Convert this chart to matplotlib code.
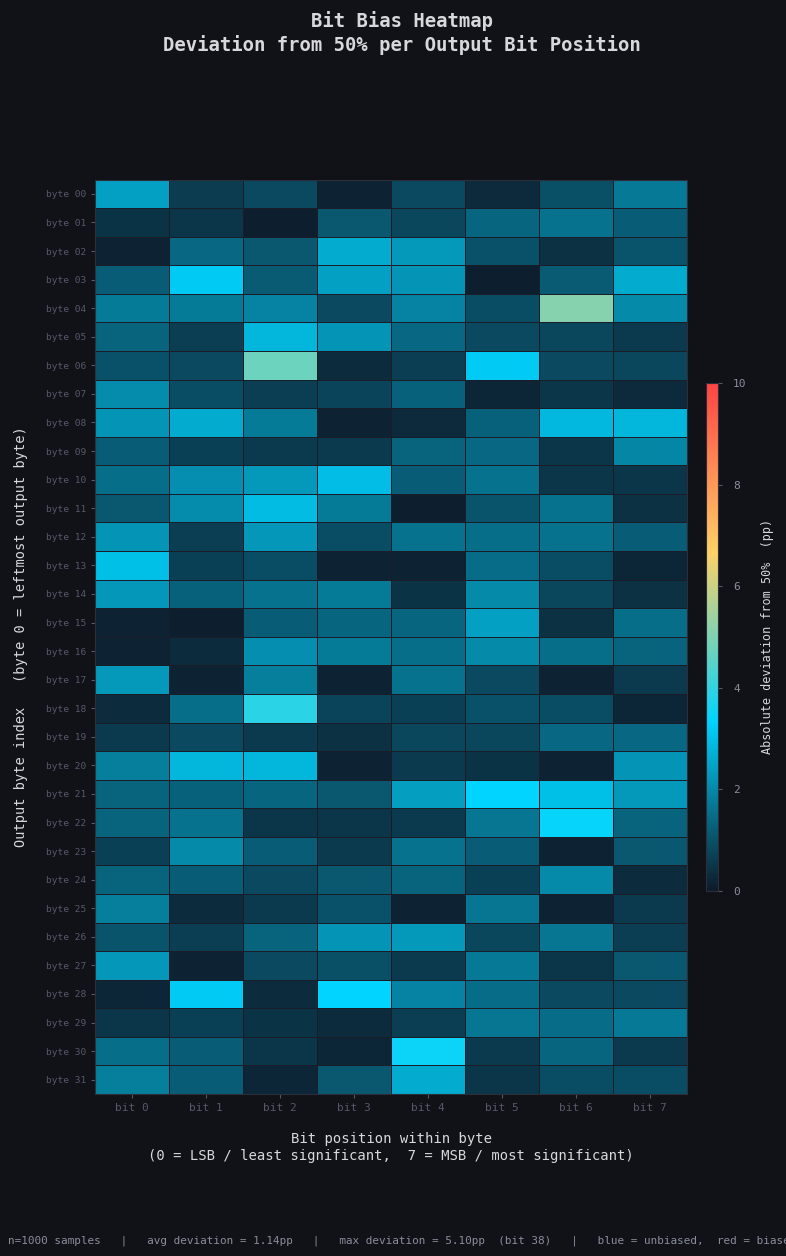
import matplotlib
matplotlib.use("Agg")
import matplotlib.pyplot as plt
import numpy as np
from matplotlib.colors import LinearSegmentedColormap

bg = "#111217"
txt = "#d8d8dc"
dim = "#8a8d9c"

bytes_lbl = ["byte %02d" % i for i in range(32)]
bits_lbl = ["bit %d" % i for i in range(8)]

# absolute deviation from 50% (pp), rows = output byte, cols = bit 0..7
dev = np.array([
    [2.40, 0.60, 0.85, 0.15, 0.85, 0.30, 0.95, 1.70],
    [0.45, 0.50, 0.10, 1.10, 0.80, 1.35, 1.60, 1.20],
    [0.15, 1.40, 1.10, 2.60, 2.30, 1.00, 0.40, 1.05],
    [1.20, 3.20, 1.15, 2.40, 2.20, 0.10, 1.15, 2.60],
    [1.75, 1.75, 1.90, 0.85, 1.90, 0.90, 5.10, 2.00],
    [1.30, 0.65, 2.80, 2.20, 1.40, 0.85, 0.80, 0.55],
    [1.00, 0.85, 4.75, 0.35, 0.65, 3.20, 0.85, 0.80],
    [2.05, 0.90, 0.65, 0.75, 1.25, 0.20, 0.50, 0.30],
    [2.20, 2.60, 1.75, 0.15, 0.30, 1.25, 2.85, 2.80],
    [1.20, 0.70, 0.55, 0.55, 1.30, 1.40, 0.50, 1.95],
    [1.50, 2.10, 2.30, 2.95, 1.20, 1.60, 0.50, 0.50],
    [1.10, 2.05, 2.90, 1.75, 0.10, 1.05, 1.60, 0.40],
    [2.20, 0.65, 2.25, 0.90, 1.60, 1.50, 1.60, 1.20],
    [3.00, 0.70, 0.90, 0.15, 0.15, 1.45, 0.90, 0.20],
    [2.25, 1.25, 1.60, 1.75, 0.45, 2.00, 0.80, 0.40],
    [0.15, 0.10, 1.20, 1.35, 1.35, 2.40, 0.40, 1.50],
    [0.15, 0.35, 2.10, 1.75, 1.50, 2.00, 1.50, 1.30],
    [2.30, 0.15, 1.80, 0.15, 1.60, 0.85, 0.15, 0.55],
    [0.35, 1.50, 3.90, 0.75, 0.70, 1.00, 0.90, 0.20],
    [0.55, 0.85, 0.55, 0.40, 0.80, 0.80, 1.40, 1.40],
    [1.80, 2.80, 2.80, 0.15, 0.55, 0.45, 0.15, 2.20],
    [1.30, 1.25, 1.35, 1.10, 2.35, 3.35, 3.00, 2.30],
    [1.30, 1.60, 0.50, 0.50, 0.55, 1.65, 3.40, 1.30],
    [0.70, 2.00, 1.20, 0.55, 1.60, 1.20, 0.15, 1.10],
    [1.30, 1.20, 0.85, 1.10, 1.30, 0.70, 2.00, 0.35],
    [1.80, 0.35, 0.55, 1.00, 0.15, 1.65, 0.15, 0.55],
    [1.05, 0.65, 1.30, 2.20, 2.30, 0.80, 1.65, 0.65],
    [2.25, 0.15, 0.85, 0.95, 0.55, 1.70, 0.50, 1.10],
    [0.20, 3.20, 0.35, 3.35, 1.90, 1.45, 0.85, 0.85],
    [0.50, 0.70, 0.45, 0.35, 0.65, 1.65, 1.45, 1.70],
    [1.50, 1.20, 0.50, 0.20, 3.50, 0.55, 1.35, 0.55],
    [1.80, 1.20, 0.20, 1.10, 2.60, 0.50, 0.90, 0.90],
])

cmap = LinearSegmentedColormap.from_list("bias", ["#0d1b2a", "#00d4ff", "#ffd166", "#ff4444"])

plt.rcParams["font.family"] = "DejaVu Sans Mono"

fig = plt.figure(figsize=(7.86, 12.56), dpi=100, facecolor=bg)
ax = fig.add_axes([0.121, 0.129, 0.753, 0.728])
ax.set_facecolor(bg)
mesh = ax.pcolormesh(dev, cmap=cmap, vmin=0, vmax=10, edgecolors="#1a1d28", linewidth=0.4)
ax.set_xlim(0, 8)
ax.set_ylim(32, 0)

ax.set_xticks(np.arange(8) + 0.5)
ax.set_xticklabels(bits_lbl, fontsize=8, color=dim)
ax.set_yticks(np.arange(32) + 0.5)
ax.set_yticklabels(bytes_lbl, fontsize=6.8, color=dim)
ax.tick_params(colors="#55586a", length=3)
for s in ax.spines.values():
    s.set_color("#2c2f3a")
    s.set_linewidth(0.8)

ax.set_xlabel("Bit position within byte\n(0 = LSB / least significant,  7 = MSB / most significant)",
              fontsize=10, color=txt, labelpad=14)
ax.set_ylabel("Output byte index   (byte 0 = leftmost output byte)", fontsize=9.8, color=txt, labelpad=13)

fig.text(0.511, 0.991, "Bit Bias Heatmap\nDeviation from 50% per Output Bit Position",
         ha="center", va="top", fontsize=13.6, fontweight="bold", color=txt, linespacing=1.2)

cax = fig.add_axes([0.898, 0.291, 0.0153, 0.404])
cb = fig.colorbar(mesh, cax=cax)
cb.set_ticks([0, 2, 4, 6, 8, 10])
cb.ax.tick_params(colors="#55586a", labelcolor=dim, labelsize=8, length=3, pad=8)
cb.outline.set_edgecolor("#2c2f3a")
cb.set_label("Absolute deviation from 50%  (pp)", fontsize=8.5, color=txt, labelpad=10)

fig.text(0.01, 0.008,
         "n=1000 samples   |   avg deviation = 1.14pp   |   max deviation = 5.10pp  (bit 38)   |   blue = unbiased,  red = biased",
         fontsize=7.9, color=dim, ha="left", va="bottom")

fig.savefig("out.png", dpi=100, facecolor=bg)
